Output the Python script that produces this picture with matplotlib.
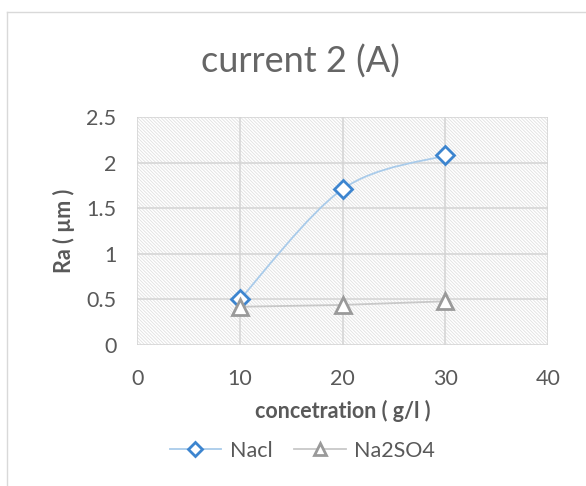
import matplotlib.pyplot as plt
from matplotlib.path import Path
from matplotlib.patches import PathPatch, Rectangle
from matplotlib.lines import Line2D
import numpy as np

plt.rcParams['font.family'] = ['Lato', 'DejaVu Sans']
plt.rcParams['hatch.linewidth'] = 0.6

# data
conc = [10, 20, 30]
nacl = [0.50, 1.71, 2.08]
na2so4 = [0.42, 0.44, 0.48]

x_ticks = [0, 10, 20, 30, 40]
y_ticks = [0, 0.5, 1, 1.5, 2, 2.5]
y_ticklabels = ['0', '0.5', '1', '1.5', '2', '2.5']

txt = '#595959'
blue_line = '#A9CBEA'
blue_mark = '#3D85CF'
grey_line = '#C8C8C8'
grey_mark = '#9A9A9A'


def smooth_path(xs, ys):
    # catmull-rom style bezier through the points (like excel "smoothed line")
    p = np.column_stack([xs, ys]).astype(float)
    pts = np.vstack([p[0], p, p[-1]])
    verts = [tuple(p[0])]
    codes = [Path.MOVETO]
    for i in range(1, len(pts) - 2):
        c1 = pts[i] + (pts[i + 1] - pts[i - 1]) / 6
        c2 = pts[i + 1] - (pts[i + 2] - pts[i]) / 6
        verts += [tuple(c1), tuple(c2), tuple(pts[i + 1])]
        codes += [Path.CURVE4] * 3
    return Path(verts, codes)


fig = plt.figure(figsize=(5.86, 4.86), dpi=100)
ax = fig.add_axes([0.234, 0.290, 0.701, 0.469])

# outer chart border (left + top visible in the screenshot)
fig.add_artist(Line2D([7 / 586, 7 / 586], [0, 1 - 12 / 486], transform=fig.transFigure,
                      color='#D9D9D9', lw=1))
fig.add_artist(Line2D([7 / 586, 1], [1 - 12 / 486, 1 - 12 / 486], transform=fig.transFigure,
                      color='#D9D9D9', lw=1))

# hatched plot area
ax.add_patch(Rectangle((0, 0), 1, 1, transform=ax.transAxes, facecolor='white',
                       edgecolor='#E0E0E0', hatch='\\' * 10, lw=0, zorder=0))

ax.set_xlim(0, 40)
ax.set_ylim(0, 2.5)
ax.set_xticks(x_ticks)
ax.set_yticks(y_ticks)
ax.set_yticklabels(y_ticklabels)
ax.grid(True, color='#D4D4D4', lw=1.1)
ax.set_axisbelow(True)
for s in ax.spines.values():
    s.set_visible(False)
ax.tick_params(length=0, labelsize=15.5, labelcolor=txt)
ax.tick_params(axis='x', pad=17)
ax.tick_params(axis='y', pad=15)

ax.add_patch(PathPatch(smooth_path(conc, nacl), facecolor='none', edgecolor=blue_line,
                       lw=1.3, zorder=3))
ax.plot(conc, na2so4, color=grey_line, lw=1.3, zorder=3)
ax.plot(conc, nacl, ls='none', marker='D', ms=9, mfc='white', mec=blue_mark, mew=2, zorder=4)
ax.plot(conc, na2so4, ls='none', marker='^', ms=11, mfc='white', mec=grey_mark, mew=2, zorder=4)

ax.set_xlabel('concetration ( g/l )', fontsize=15.5, fontweight='bold', color=txt, labelpad=8)
ax.set_ylabel('Ra ( µm )', fontsize=15.5, fontweight='bold', color=txt, labelpad=8)
fig.text(0.512, 1 - 62 / 486, 'current 2 (A)', ha='center', va='center', fontsize=26,
         color='#666666')

handles = [
    Line2D([], [], color=blue_line, lw=1.3, marker='D', ms=7, mfc='white', mec=blue_mark, mew=2),
    Line2D([], [], color=grey_line, lw=1.3, marker='^', ms=9, mfc='white', mec=grey_mark, mew=2),
]
fig.legend(handles, ['Nacl', 'Na2SO4'], loc='center', bbox_to_anchor=(0.516, 1 - 451 / 486),
           ncol=2, frameon=False, fontsize=15.5, labelcolor=txt, handlelength=2.4,
           columnspacing=1.0, handletextpad=0.4)

fig.savefig('out.png', dpi=100)
